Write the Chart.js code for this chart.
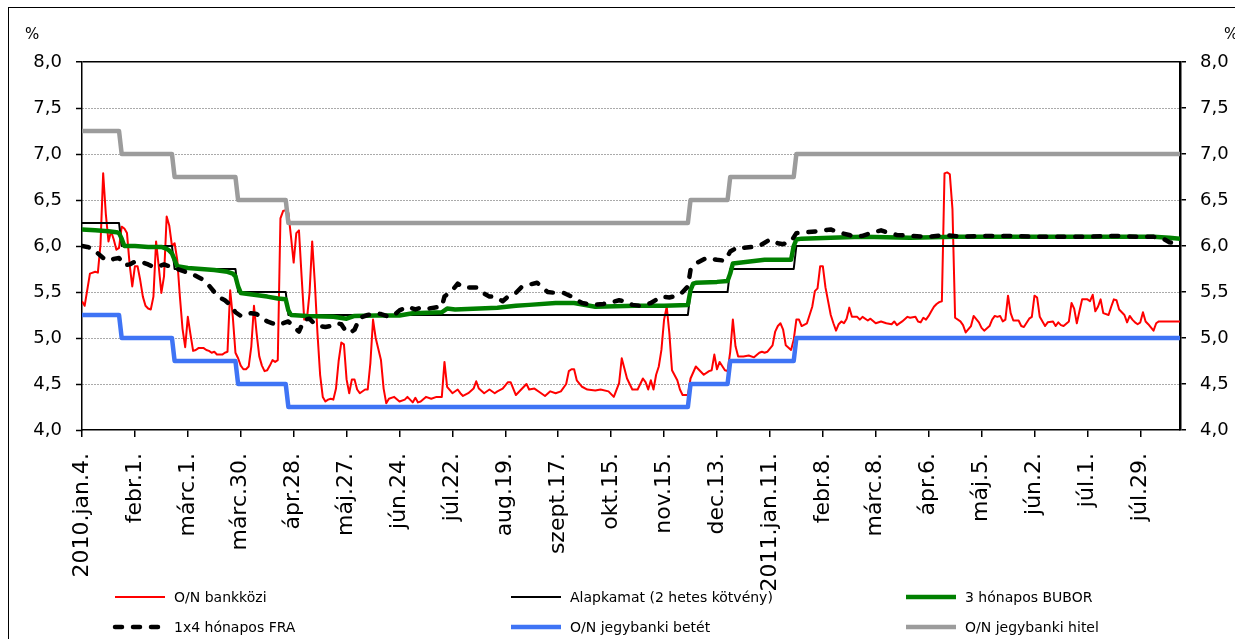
<!DOCTYPE html>
<html><head><meta charset="utf-8">
<script src="https://cdn.jsdelivr.net/npm/chart.js@4.4.0/dist/chart.umd.min.js"></script>
<style>
html,body{margin:0;padding:0;background:#fff;overflow:hidden;}
#wrap{position:relative;width:1235px;height:639px;overflow:hidden;}
#frame{position:absolute;left:8px;top:7px;width:1300px;height:700px;border-left:1px solid #000;border-top:1px solid #000;}
canvas{position:absolute;left:0;top:0;}
.pct{position:absolute;font:15px 'DejaVu Sans';color:#000;}
.lg{position:absolute;font:14px 'DejaVu Sans';color:#000;white-space:nowrap;line-height:18px;}
.lgm{position:absolute;}
</style></head>
<body><div id="wrap"><div id="frame"></div><canvas id="c" width="1235" height="639"></canvas>
<div class="pct" style="left:25px;top:25px">%</div>
<div class="pct" style="left:1224px;top:25px">%</div>
<div id="legend"></div></div>
<script>
// ---- tick labels (every 20 business days, index 0..400) ----
const tickLabels = ['2010.jan.4.','febr.1.','márc.1.','márc.30.','ápr.28.','máj.27.','jún.24.','júl.22.','aug.19.','szept.17.','okt.15.','nov.15.','dec.13.','2011.jan.11.','febr.8.','márc.8.','ápr.6.','máj.5.','jún.2.','júl.1.','júl.29.'];
const lastDay = 415;

// ---- policy-rate corridor: business-day index where each level starts ----
const rateStart   = [0, 15, 35, 59, 78, 230, 245, 270];
const alapkamat   = [6.25, 6.00, 5.75, 5.50, 5.25, 5.50, 5.75, 6.00];
const jegyBetet   = [5.25, 5.00, 4.75, 4.50, 4.25, 4.50, 4.75, 5.00];
const jegyHitel   = [7.25, 7.00, 6.75, 6.50, 6.25, 6.50, 6.75, 7.00];

// ---- O/N bankközi [day index, %] ----
const onBankkozi = [[0,5.40],[1,5.35],[3,5.70],[5,5.72],[6,5.71],[7,6.02],[8,6.79],[9,6.35],[10,6.05],[11,6.16],[12,6.07],[13,5.96],[14,5.98],[15,6.21],[16,6.19],[17,6.14],[18,5.80],[19,5.56],[20,5.78],[21,5.78],[22,5.63],[23,5.45],[24,5.35],[25,5.32],[26,5.31],[27,5.45],[28,6.05],[29,5.78],[30,5.49],[31,5.67],[32,6.32],[33,6.22],[34,6.00],[35,6.03],[36,5.85],[37,5.45],[38,5.10],[39,4.90],[40,5.23],[41,5.04],[42,4.86],[43,4.87],[44,4.89],[46,4.89],[47,4.87],[48,4.86],[49,4.84],[50,4.85],[51,4.82],[53,4.82],[54,4.84],[55,4.85],[56,5.52],[57,5.23],[58,4.84],[59,4.78],[60,4.70],[61,4.66],[62,4.66],[63,4.69],[64,4.91],[65,5.35],[66,5.05],[67,4.80],[68,4.70],[69,4.64],[70,4.65],[71,4.70],[72,4.76],[73,4.74],[74,4.76],[75,6.30],[76,6.38],[77,6.39],[78,6.36],[79,6.10],[80,5.82],[81,6.14],[82,6.17],[83,5.67],[84,5.20],[85,5.20],[86,5.49],[87,6.05],[88,5.60],[89,5.05],[90,4.60],[91,4.36],[92,4.31],[93,4.33],[94,4.34],[95,4.33],[96,4.45],[97,4.75],[98,4.95],[99,4.93],[100,4.55],[101,4.40],[102,4.55],[103,4.55],[104,4.44],
[105,4.40],[107,4.44],[108,4.44],[109,4.73],[110,5.20],[111,5.00],[113,4.76],[114,4.45],[115,4.29],[116,4.34],[118,4.36],[120,4.31],[122,4.33],[123,4.36],[125,4.30],[126,4.35],[127,4.30],[128,4.31],[130,4.36],[132,4.34],[134,4.36],[136,4.36],[137,4.74],[138,4.47],[140,4.40],[142,4.44],[143,4.40],[144,4.37],[146,4.40],[148,4.45],[149,4.53],[150,4.45],[152,4.40],[154,4.44],[156,4.40],[157,4.42],[159,4.45],[161,4.52],[162,4.52],[164,4.38],[166,4.44],[168,4.50],[169,4.44],[171,4.45],[173,4.41],[175,4.37],[177,4.42],[179,4.40],[181,4.42],[183,4.50],[184,4.64],[185,4.66],[186,4.66],[187,4.54],[189,4.47],[191,4.44],[194,4.43],[196,4.44],[199,4.42],[201,4.36],[203,4.51],[204,4.78],[206,4.56],[208,4.44],[210,4.44],[212,4.56],[213,4.52],[214,4.44],[215,4.54],[216,4.44],[217,4.60],[218,4.69],[219,4.87],[220,5.20],[221,5.34],[222,5.05],[223,4.65],[225,4.54],[226,4.44],[227,4.38],[229,4.38],
[230,4.56],[232,4.69],[234,4.63],[235,4.60],[237,4.64],[238,4.65],[239,4.82],[240,4.66],[241,4.74],[243,4.65],[244,4.64],[245,4.85],[246,5.20],[247,4.91],[248,4.80],[250,4.80],[252,4.81],[254,4.79],[256,4.84],[257,4.85],[258,4.84],[259,4.85],[261,4.92],[262,5.07],[263,5.13],[264,5.16],[265,5.09],[266,4.92],[268,4.87],[269,4.98],[270,5.20],[271,5.20],[272,5.13],[274,5.16],[275,5.25],[276,5.34],[277,5.51],[278,5.54],[279,5.78],[280,5.78],[281,5.55],[283,5.25],[284,5.16],[285,5.08],[286,5.15],[287,5.18],[288,5.16],[289,5.21],[290,5.33],[291,5.23],[293,5.23],[294,5.20],[295,5.23],[297,5.19],[298,5.21],[300,5.16],[302,5.18],[304,5.16],[306,5.15],[307,5.18],[308,5.14],[310,5.18],[312,5.23],[313,5.22],[315,5.23],[316,5.18],[317,5.17],[318,5.22],[319,5.20],[320,5.24],[321,5.29],[322,5.34],[323,5.37],[324,5.39],[325,5.40],[326,6.79],[327,6.80],[328,6.78],[329,6.40],[330,5.22],[332,5.18],[333,5.14],[334,5.06],[336,5.13],[337,5.24],[339,5.17],[340,5.11],[341,5.08],[343,5.13],[344,5.20],[345,5.24],[346,5.23],[347,5.24],[348,5.18],[349,5.20],[350,5.46],[351,5.27],[352,5.19],[354,5.19],[355,5.13],[356,5.12],[358,5.21],[359,5.23],[360,5.46],[361,5.44],[362,5.23],[364,5.13],[365,5.17],[367,5.18],[368,5.13],[369,5.17],[370,5.14],[371,5.13],[373,5.18],[374,5.38],[375,5.32],[376,5.16],[377,5.29],[378,5.42],[380,5.42],[381,5.40],[382,5.47],[383,5.29],[384,5.34],[385,5.42],[386,5.27],[388,5.25],[389,5.34],[390,5.42],[391,5.41],[392,5.31],[394,5.25],[395,5.17],[396,5.24],[397,5.20],[398,5.17],[399,5.15],[400,5.17],[401,5.28],[402,5.18],[403,5.15],[405,5.08],[406,5.16],[407,5.18],[415,5.18]];

// ---- 3 hónapos BUBOR ----
const bubor3m = [[0,6.18],[5,6.17],[10,6.16],[13,6.15],[14,6.14],[15,6.08],[16,6.00],[20,6.00],[25,5.99],[30,5.99],[32,5.97],[33,5.95],[34,5.92],[35,5.85],[36,5.78],[40,5.76],[45,5.75],[50,5.74],[55,5.72],[57,5.70],[58,5.67],[59,5.56],[60,5.49],[65,5.47],[70,5.45],[74,5.43],[77,5.42],[78,5.30],[79,5.25],[85,5.24],[95,5.23],[100,5.21],[103,5.24],[111,5.245],[120,5.245],[125,5.27],[136,5.28],[138,5.32],[141,5.31],[157,5.33],[164,5.35],[169,5.36],[179,5.38],[186,5.38],[194,5.34],[209,5.35],[220,5.35],[229,5.36],[230,5.52],[231,5.59],[232,5.60],[240,5.61],[244,5.62],[245,5.70],[246,5.81],[258,5.85],[268,5.85],[269,6.00],[270,6.07],[272,6.08],[283,6.09],[295,6.10],[313,6.09],[330,6.10],[360,6.10],[390,6.10],[405,6.10],[411,6.09],[415,6.08]];

// ---- 1x4 hónapos FRA ----
const fra1x4 = [[0,6.00],[2,5.99],[4,5.97],[6,5.92],[8,5.87],[10,5.84],[12,5.86],[14,5.87],[16,5.79],[18,5.80],[20,5.83],[23,5.82],[25,5.80],[27,5.77],[29,5.78],[31,5.80],[33,5.78],[35,5.76],[37,5.74],[39,5.72],[42,5.69],[44,5.66],[46,5.63],[48,5.57],[50,5.50],[52,5.44],[54,5.41],[56,5.36],[58,5.28],[60,5.24],[62,5.26],[64,5.27],[66,5.26],[68,5.22],[70,5.18],[72,5.16],[74,5.14],[76,5.16],[78,5.18],[80,5.12],[82,5.07],[84,5.20],[86,5.21],[88,5.15],[90,5.13],[92,5.12],[94,5.13],[96,5.16],[98,5.15],[100,5.06],[102,5.07],[103,5.09],[105,5.22],[108,5.25],[111,5.27],[113,5.26],[116,5.23],[118,5.25],[120,5.30],[123,5.34],[126,5.31],[128,5.33],[131,5.32],[133,5.33],[136,5.34],[137,5.45],[140,5.52],[142,5.59],[144,5.55],[146,5.55],[149,5.55],[151,5.50],[154,5.45],[156,5.45],[159,5.40],[161,5.45],[164,5.49],[166,5.55],[169,5.58],[172,5.60],[174,5.55],[176,5.50],[179,5.49],[182,5.49],[185,5.45],[189,5.38],[193,5.36],[197,5.37],[199,5.38],[203,5.41],[205,5.40],[208,5.36],[211,5.35],[215,5.38],[219,5.45],[222,5.44],[226,5.47],[229,5.56],[230,5.74],[232,5.81],[236,5.87],[240,5.85],[243,5.84],[245,5.94],[248,5.99],[250,5.98],[253,5.99],[256,6.00],[260,6.07],[263,6.03],[265,6.02],[268,6.05],[270,6.14],[274,6.15],[278,6.16],[283,6.18],[287,6.14],[290,6.12],[292,6.10],[295,6.11],[298,6.14],[302,6.17],[305,6.14],[308,6.12],[313,6.11],[320,6.10],[326,6.12],[333,6.10],[340,6.11],[350,6.11],[360,6.10],[370,6.10],[380,6.10],[390,6.11],[400,6.10],[405,6.10],[408,6.09],[411,6.04],[415,6.02]];

// ---- build point tables for the library ----
const toXY = arr => arr.map(p => ({x: p[0], y: p[1]}));
function stepXY(starts, values, last) {
  const pts = [];
  for (let k = 0; k < starts.length; k++) {
    const end = k + 1 < starts.length ? starts[k + 1] - 1 : last;
    pts.push({x: starts[k], y: values[k]}, {x: end, y: values[k]});
  }
  return pts;
}

const series = [
  {label: 'O/N bankközi', data: toXY(onBankkozi), color: '#ff0000', width: 2, dash: [], order: 6},
  {label: 'Alapkamat (2 hetes kötvény)', data: stepXY(rateStart, alapkamat, lastDay), color: '#000000', width: 2, dash: [], order: 5},
  {label: '3 hónapos BUBOR', data: toXY(bubor3m), color: '#008000', width: 4.5, dash: [], order: 4},
  {label: '1x4 hónapos FRA', data: toXY(fra1x4), color: '#000000', width: 4.5, dash: [7, 11], order: 3, cap: 'round'},
  {label: 'O/N jegybanki betét', data: stepXY(rateStart, jegyBetet, lastDay), color: '#3f74f5', width: 4.5, dash: [], order: 2},
  {label: 'O/N jegybanki hitel', data: stepXY(rateStart, jegyHitel, lastDay), color: '#9c9c9c', width: 4.5, dash: [], order: 1}
];

const FONT = "'DejaVu Sans'";
const fmt = v => Number(v).toFixed(1).replace('.', ',');

new Chart(document.getElementById('c'), {
  type: 'line',
  data: {
    datasets: series.map(s => ({
      label: s.label, data: s.data, borderColor: s.color, backgroundColor: s.color,
      borderWidth: s.width, borderDash: s.dash, borderCapStyle: s.cap || 'butt',
      borderJoinStyle: 'round', pointRadius: 0, tension: 0, fill: false, order: s.order, yAxisID: 'y'
    }))
  },
  options: {
    responsive: false, animation: false, devicePixelRatio: 1,
    layout: {padding: {top: 62, left: 0, right: 0, bottom: 0}},
    plugins: {legend: {display: false}, tooltip: {enabled: false}},
    scales: {
      x: {
        type: 'linear', min: 0, max: lastDay,
        afterBuildTicks: sc => { sc.ticks = tickLabels.map((_, k) => ({value: k * 20})); },
        afterFit: sc => { sc.height = 209; },
        ticks: {autoSkip: false, minRotation: 90, maxRotation: 90, padding: 16,
          font: {family: FONT, size: 22}, color: '#000',
          callback: v => tickLabels[Math.round(v / 20)] || ''},
        grid: {drawOnChartArea: false, drawTicks: true, tickLength: 7, tickColor: '#000', lineWidth: 1.5},
        border: {color: '#000', width: 1.5}
      },
      y: {
        type: 'linear', position: 'left', min: 4, max: 8,
        afterBuildTicks: sc => { const t = []; for (let v = 4; v <= 8.0001; v += 0.5) t.push({value: Math.round(v * 10) / 10}); sc.ticks = t; },
        afterFit: sc => { sc.width = 82; },
        ticks: {padding: 14, font: {family: FONT, size: 18}, color: '#000', callback: fmt},
        grid: {drawOnChartArea: true, drawTicks: true, tickLength: 6, tickColor: '#000', tickWidth: 1.5,
          color: c => (c.tick && c.tick.value >= 8) ? '#000' : (c.tick && c.tick.value <= 4 ? 'rgba(0,0,0,0)' : '#555'),
          lineWidth: c => (c.tick && c.tick.value >= 8) ? 1.5 : 1, tickBorderDash: []},
        border: {color: '#000', width: 1.5, dash: c => (c.tick && c.tick.value < 8) ? [1, 2] : []}
      },
      y2: {
        type: 'linear', position: 'right', min: 4, max: 8,
        afterBuildTicks: sc => { const t = []; for (let v = 4; v <= 8.0001; v += 0.5) t.push({value: Math.round(v * 10) / 10}); sc.ticks = t; },
        afterFit: sc => { sc.width = 55; },
        ticks: {padding: 14, font: {family: FONT, size: 18}, color: '#000', callback: fmt},
        grid: {drawOnChartArea: false, drawTicks: true, tickLength: 6, tickColor: '#000', lineWidth: 1.5},
        border: {color: '#000', width: 2.5}
      }
    }
  }
});

// ---- HTML legend (two rows, three columns, as in the original) ----
const slots = [[112, 597], [508, 597], [903, 597], [112, 627], [508, 627], [903, 627]];
const lg = document.getElementById('legend');
series.forEach((s, k) => {
  const [x, y] = slots[k];
  const w = 56;
  const svg = `<svg class="lgm" style="left:${x}px;top:${y - 5}px" width="${w}" height="10"><line x1="3" y1="5" x2="${w - 3}" y2="5" stroke="${s.color}" stroke-width="${Math.max(s.width, 2)}" ${s.dash.length ? `stroke-dasharray="${s.dash.join(' ')}" stroke-linecap="round"` : ''}/></svg>`;
  lg.insertAdjacentHTML('beforeend', svg + `<div class="lg" style="left:${x + w + 6}px;top:${y - 9}px">${s.label}</div>`);
});
</script>
</body></html>
